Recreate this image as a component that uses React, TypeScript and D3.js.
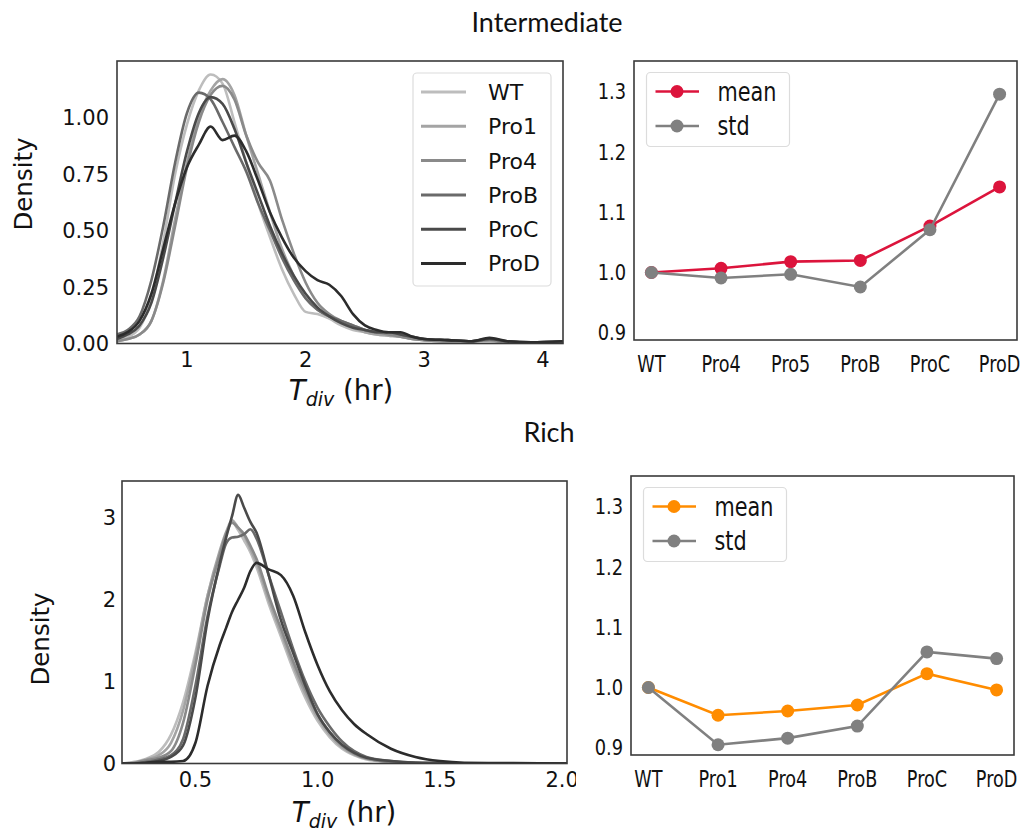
import React from 'react';
import * as d3 from 'd3';

// ---------- data ----------
const SERIES = ['WT', 'Pro1', 'Pro4', 'ProB', 'ProC', 'ProD'];
const GREYS = ['#bdbdbd', '#a4a4a4', '#8a8a8a', '#6a6a6a', '#4a4a4a', '#2c2c2c'];

// Intermediate density curves
const TL_X = [0.41, 0.5, 0.6, 0.7, 0.8, 0.9, 1.0, 1.1, 1.2, 1.3, 1.4, 1.5, 1.6, 1.7, 1.8, 1.9, 2.0, 2.1, 2.2, 2.3, 2.4, 2.5, 2.6, 2.7, 2.8, 2.9, 3.0, 3.2, 3.4, 3.55, 3.7, 3.9, 4.17];
const TL_WT = [0.02, 0.03, 0.07, 0.2, 0.45, 0.75, 0.97, 1.12, 1.19, 1.15, 0.98, 0.8, 0.62, 0.47, 0.33, 0.22, 0.14, 0.13, 0.11, 0.08, 0.06, 0.05, 0.04, 0.035, 0.03, 0.02, 0.015, 0.01, 0.01, 0.01, 0.005, 0.005, 0.005];
const TL_PRO1 = [0.01, 0.02, 0.04, 0.1, 0.28, 0.55, 0.8, 1.0, 1.12, 1.17, 1.1, 0.92, 0.75, 0.58, 0.42, 0.3, 0.2, 0.15, 0.12, 0.09, 0.07, 0.05, 0.04, 0.035, 0.03, 0.02, 0.015, 0.01, 0.01, 0.015, 0.005, 0.005, 0.005];
const TL_PRO4 = [0.01, 0.02, 0.04, 0.1, 0.27, 0.52, 0.78, 0.98, 1.1, 1.14, 1.08, 0.92, 0.8, 0.72, 0.55, 0.4, 0.27, 0.18, 0.13, 0.1, 0.08, 0.06, 0.05, 0.04, 0.03, 0.02, 0.015, 0.01, 0.01, 0.015, 0.005, 0.005, 0.005];
const TL_PROB = [0.04, 0.06, 0.12, 0.28, 0.52, 0.8, 1.02, 1.11, 1.08, 0.98, 0.87, 0.76, 0.62, 0.5, 0.38, 0.28, 0.2, 0.15, 0.12, 0.1, 0.08, 0.06, 0.05, 0.05, 0.04, 0.03, 0.02, 0.015, 0.01, 0.02, 0.01, 0.005, 0.01];
const TL_PROC = [0.02, 0.04, 0.08, 0.18, 0.38, 0.62, 0.85, 1.02, 1.09, 1.06, 0.95, 0.8, 0.66, 0.52, 0.4, 0.3, 0.22, 0.16, 0.12, 0.09, 0.07, 0.06, 0.05, 0.05, 0.04, 0.03, 0.02, 0.015, 0.01, 0.02, 0.01, 0.005, 0.01];
const TL_PROD = [0.03, 0.05, 0.1, 0.22, 0.42, 0.62, 0.78, 0.88, 0.96, 0.9, 0.92, 0.85, 0.72, 0.58, 0.47, 0.38, 0.32, 0.28, 0.26, 0.21, 0.13, 0.08, 0.06, 0.05, 0.05, 0.03, 0.02, 0.015, 0.01, 0.025, 0.01, 0.005, 0.01];
const TL_X_TICKS = [1, 2, 3, 4];
const TL_Y_TICKS = [0, 0.25, 0.5, 0.75, 1.0];

// Rich density curves
const BL_X = [0.2, 0.25, 0.3, 0.35, 0.4, 0.45, 0.5, 0.55, 0.6, 0.625, 0.65, 0.675, 0.7, 0.725, 0.75, 0.8, 0.85, 0.9, 0.95, 1.0, 1.05, 1.1, 1.15, 1.2, 1.3, 1.4, 1.5, 1.6, 1.8, 2.02];
const BL_WT = [0, 0.02, 0.06, 0.14, 0.35, 0.75, 1.35, 2.05, 2.55, 2.78, 2.95, 2.85, 2.72, 2.58, 2.4, 1.95, 1.55, 1.15, 0.8, 0.52, 0.32, 0.18, 0.1, 0.05, 0.02, 0.01, 0.005, 0, 0, 0];
const BL_PRO1 = [0, 0.01, 0.05, 0.1, 0.25, 0.65, 1.3, 2.05, 2.6, 2.82, 2.97, 2.88, 2.78, 2.62, 2.45, 2.0, 1.6, 1.2, 0.85, 0.56, 0.35, 0.2, 0.11, 0.06, 0.02, 0.01, 0.005, 0, 0, 0];
const BL_PRO4 = [0, 0.01, 0.04, 0.07, 0.15, 0.5, 1.2, 2.0, 2.55, 2.8, 2.94, 2.88, 2.8, 2.66, 2.5, 2.05, 1.65, 1.25, 0.9, 0.6, 0.38, 0.22, 0.12, 0.06, 0.02, 0.01, 0.005, 0, 0, 0];
const BL_PROB = [0, 0, 0.02, 0.05, 0.1, 0.3, 0.95, 1.8, 2.42, 2.68, 2.76, 2.77, 2.8, 2.86, 2.75, 2.3, 1.85, 1.4, 1.0, 0.68, 0.45, 0.27, 0.15, 0.08, 0.03, 0.01, 0.005, 0, 0, 0];
const BL_PROC = [0, 0, 0.01, 0.03, 0.08, 0.22, 0.8, 1.75, 2.45, 2.75, 3.02, 3.28, 3.12, 2.95, 2.82, 2.3, 1.75, 1.35, 0.95, 0.6, 0.38, 0.23, 0.13, 0.07, 0.03, 0.01, 0.005, 0, 0, 0];
const BL_PROD = [0, 0, 0.01, 0.02, 0.02, 0.03, 0.25, 0.95, 1.45, 1.65, 1.85, 2.0, 2.15, 2.35, 2.45, 2.37, 2.3, 2.05, 1.6, 1.2, 0.88, 0.65, 0.48, 0.36, 0.18, 0.08, 0.03, 0.01, 0.005, 0];
const BL_X_TICKS = [0.5, 1.0, 1.5, 2.0];
const BL_Y_TICKS = [0, 1, 2, 3];

// Relative mean / std
const TR_CATS = ['WT', 'Pro4', 'Pro5', 'ProB', 'ProC', 'ProD'];
const TR_MEAN = [1.0, 1.007, 1.018, 1.02, 1.077, 1.142];
const TR_STD = [1.0, 0.991, 0.997, 0.976, 1.071, 1.296];
const BR_CATS = ['WT', 'Pro1', 'Pro4', 'ProB', 'ProC', 'ProD'];
const BR_MEAN = [1.0, 0.954, 0.961, 0.971, 1.023, 0.996];
const BR_STD = [1.0, 0.905, 0.916, 0.936, 1.059, 1.048];
const RIGHT_Y_TICKS = [0.9, 1.0, 1.1, 1.2, 1.3];

const TL_YS = [TL_WT, TL_PRO1, TL_PRO4, TL_PROB, TL_PROC, TL_PROD];
const BL_YS = [BL_WT, BL_PRO1, BL_PRO4, BL_PROB, BL_PROC, BL_PROD];

const FONT = 'DejaVu Sans';
const FRAME = '#3a3a3a';

type Box = { l: number; r: number; t: number; b: number };

function XLabel({ cx, cy }: { cx: number; cy: number }) {
  return (
    <text x={cx} y={cy} textAnchor="middle" fontFamily={FONT} fontSize={27.5} fill="#111">
      <tspan fontStyle="italic">T</tspan>
      <tspan fontStyle="italic" fontSize={19} dy={6}>div</tspan>
      <tspan dy={-6}> (hr)</tspan>
    </text>
  );
}

function DensityPanel(props: {
  id: string; box: Box; xDomain: [number, number]; yDomain: [number, number];
  xs: number[]; ys: number[][]; xTicks: number[]; yTicks: number[];
  xFmt: (v: number) => string; yFmt: (v: number) => string;
  yLabelPos: [number, number]; xLabelPos: [number, number];
  xTickY: number; yTickGap: number; legend?: boolean; clipRight?: number;
}) {
  const { id, box, xs, ys } = props;
  const x = d3.scaleLinear().domain(props.xDomain).range([box.l, box.r]);
  const y = d3.scaleLinear().domain(props.yDomain).range([box.b, box.t]);
  const line = d3.line<number>().x((_, i) => x(xs[i])).y((d) => y(d)).curve(d3.curveMonotoneX);
  return (
    <g clipPath={props.clipRight ? `url(#${id}-outer)` : undefined}>
      <defs>
        <clipPath id={`${id}-clip`}>
          <rect x={box.l} y={box.t} width={box.r - box.l} height={box.b - box.t} />
        </clipPath>
        {props.clipRight ? (
          <clipPath id={`${id}-outer`}>
            <rect x={0} y={box.t - 40} width={props.clipRight} height={box.b - box.t + 120} />
          </clipPath>
        ) : null}
      </defs>
      <g clipPath={`url(#${id}-clip)`}>
        {ys.map((s, i) => (
          <path key={i} d={line(s) || ''} fill="none" stroke={GREYS[i]} strokeWidth={2.6} strokeLinejoin="round" />
        ))}
      </g>
      <rect x={box.l} y={box.t} width={box.r - box.l} height={box.b - box.t} fill="none" stroke={FRAME} strokeWidth={1.6} />
      {props.xTicks.map((t) => (
        <text key={t} x={x(t)} y={props.xTickY} textAnchor="middle" fontFamily={FONT} fontSize={21} fill="#111">{props.xFmt(t)}</text>
      ))}
      {props.yTicks.map((t) => (
        <text key={t} x={box.l - props.yTickGap} y={y(t)} dy="0.36em" textAnchor="end" fontFamily={FONT} fontSize={21} fill="#111">{props.yFmt(t)}</text>
      ))}
      <text transform={`translate(${props.yLabelPos[0]},${props.yLabelPos[1]}) rotate(-90)`} textAnchor="middle" dy="0.36em" fontFamily={FONT} fontSize={24.5} fill="#111">Density</text>
      <XLabel cx={props.xLabelPos[0]} cy={props.xLabelPos[1]} />
      {props.legend ? (
        <g>
          <rect x={box.r - 150} y={box.t + 12} width={138} height={213} rx={4} fill="#fff" fillOpacity={0.85} stroke="#dcdcdc" strokeWidth={1.2} />
          {SERIES.map((s, i) => {
            const ry = box.t + 31 + i * 34.3;
            return (
              <g key={s}>
                <line x1={box.r - 142} x2={box.r - 97} y1={ry} y2={ry} stroke={GREYS[i]} strokeWidth={3} />
                <text x={box.r - 75} y={ry} dy="0.36em" fontFamily={FONT} fontSize={22} fill="#111">{s}</text>
              </g>
            );
          })}
        </g>
      ) : null}
    </g>
  );
}

function SqText(props: { x: number; y: number; size: number; sx: number; anchor: string; children: React.ReactNode }) {
  return (
    <text transform={`translate(${props.x},${props.y}) scale(${props.sx},1)`} textAnchor={props.anchor} dy="0.36em" fontFamily={FONT} fontSize={props.size} fill="#111">{props.children}</text>
  );
}

function LinePanel(props: { box: Box; cats: string[]; mean: number[]; std: number[]; meanColor: string }) {
  const { box, cats } = props;
  const x = d3.scaleLinear().domain([-0.25, cats.length - 0.75]).range([box.l, box.r]);
  const y = d3.scaleLinear().domain([0.888, 1.351]).range([box.b, box.t]);
  const line = d3.line<number>().x((_, i) => x(i)).y((d) => y(d));
  const series = [
    { name: 'mean', vals: props.mean, color: props.meanColor },
    { name: 'std', vals: props.std, color: '#808080' },
  ];
  return (
    <g>
      {series.map((s) => (
        <g key={s.name}>
          <path d={line(s.vals) || ''} fill="none" stroke={s.color} strokeWidth={2.6} />
          {s.vals.map((v, i) => (
            <circle key={i} cx={x(i)} cy={y(v)} r={6.5} fill={s.color} />
          ))}
        </g>
      ))}
      <rect x={box.l} y={box.t} width={box.r - box.l} height={box.b - box.t} fill="none" stroke={FRAME} strokeWidth={1.6} />
      {cats.map((c, i) => (
        <SqText key={c} x={x(i)} y={box.b + 24} size={23.5} sx={0.75} anchor="middle">{c}</SqText>
      ))}
      {RIGHT_Y_TICKS.map((t) => (
        <SqText key={t} x={box.l - 8} y={y(t)} size={21} sx={0.85} anchor="end">{t.toFixed(1)}</SqText>
      ))}
      <rect x={box.l + 12.5} y={box.t + 11.5} width={143} height={74} rx={4} fill="#fff" fillOpacity={0.85} stroke="#dcdcdc" strokeWidth={1.2} />
      {series.map((s, i) => {
        const ry = box.t + 30.5 + i * 34.5;
        return (
          <g key={s.name}>
            <line x1={box.l + 21.5} x2={box.l + 65} y1={ry} y2={ry} stroke={s.color} strokeWidth={2.6} />
            <circle cx={box.l + 43} cy={ry} r={6.5} fill={s.color} />
            <SqText x={box.l + 83.5} y={ry} size={26} sx={0.8} anchor="start">{s.name}</SqText>
          </g>
        );
      })}
    </g>
  );
}

export default function App() {
  const tl: Box = { l: 117, r: 563, t: 61, b: 343.5 };
  const bl: Box = { l: 122, r: 567, t: 481, b: 763.5 };
  const tr: Box = { l: 634, r: 1017, t: 61, b: 340 };
  const br: Box = { l: 631, r: 1014, t: 476, b: 755 };
  return (
    <svg width={1025} height={832} style={{ position: 'absolute', left: 0, top: 0, background: '#fff' }}>
      <rect x={0} y={0} width={1025} height={832} fill="#fff" />
      <text x={547} y={22} dy="0.36em" textAnchor="middle" fontFamily="Lato" fontSize={27} fill="#111">Intermediate</text>
      <text x={549} y={432} dy="0.36em" textAnchor="middle" fontFamily="Lato" fontSize={27} fill="#111">Rich</text>
      <DensityPanel id="tl" box={tl} xDomain={[0.41, 4.17]} yDomain={[0, 1.25]} xs={TL_X} ys={TL_YS}
        xTicks={TL_X_TICKS} yTicks={TL_Y_TICKS} xFmt={(v) => String(v)} yFmt={(v) => v.toFixed(2)}
        yLabelPos={[23, 184]} xLabelPos={[341, 400]} xTickY={367} yTickGap={8} legend />
      <DensityPanel id="bl" box={bl} xDomain={[0.2, 2.02]} yDomain={[0, 3.45]} xs={BL_X} ys={BL_YS}
        xTicks={BL_X_TICKS} yTicks={BL_Y_TICKS} xFmt={(v) => v.toFixed(1)} yFmt={(v) => String(v)}
        yLabelPos={[40, 639]} xLabelPos={[344, 822]} xTickY={787} yTickGap={6} clipRight={576} />
      <LinePanel box={tr} cats={TR_CATS} mean={TR_MEAN} std={TR_STD} meanColor="#dc143c" />
      <LinePanel box={br} cats={BR_CATS} mean={BR_MEAN} std={BR_STD} meanColor="#ff8c00" />
    </svg>
  );
}
